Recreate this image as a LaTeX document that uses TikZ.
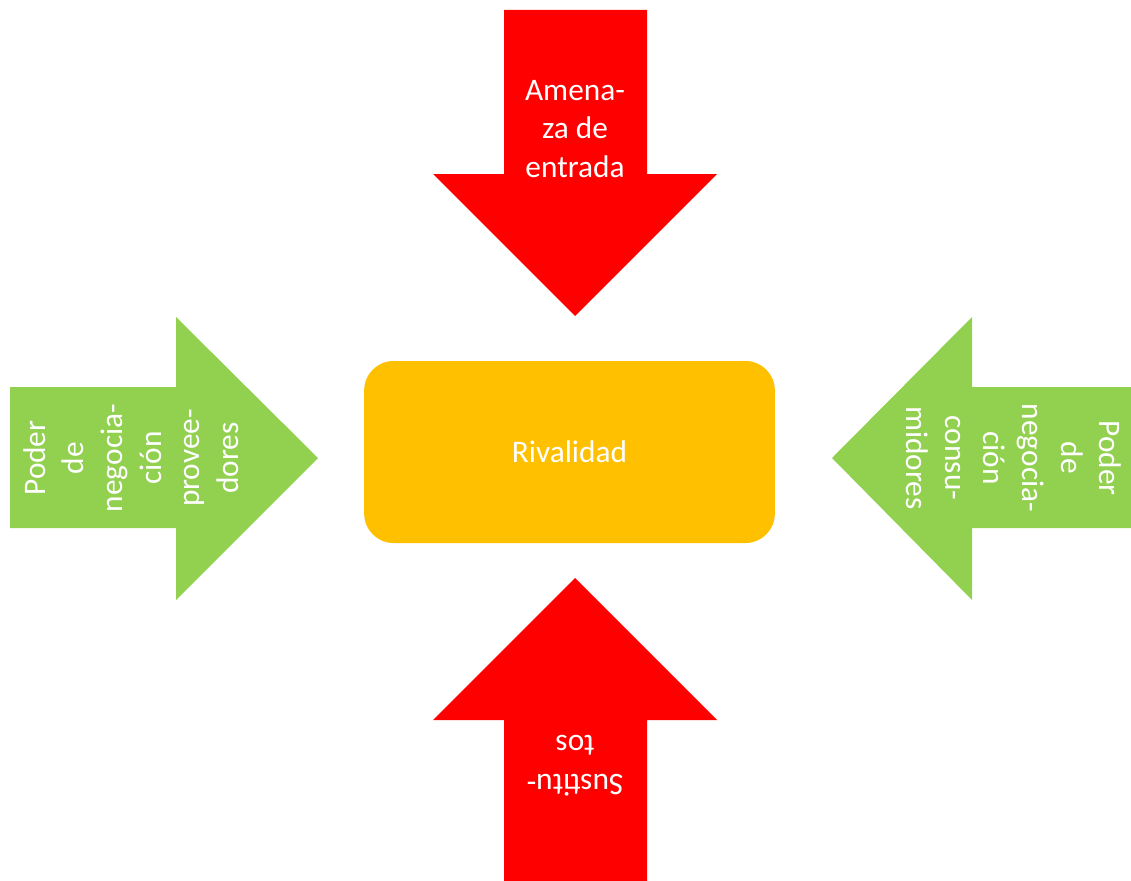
\documentclass[tikz,border=0pt]{standalone}
\usepackage{fontspec}
\setmainfont{Carlito}
\definecolor{forcered}{HTML}{FF0000}
\definecolor{forcegreen}{HTML}{92D050}
\definecolor{rivalorange}{HTML}{FFC000}
\tikzstyle{redarrow} = [fill=forcered, draw=none]
\tikzstyle{greenarrow} = [fill=forcegreen, draw=none]
\tikzstyle{forcetext} = [text=white,
align=center,
inner sep=0pt,
font=\fontsize{23.5}{29}\selectfont]
\tikzstyle{rivalbox} = [rectangle, rounded corners=22pt,
minimum width=308pt,
minimum height=136.5pt,
fill=rivalorange,
text=white,
font=\fontsize{23.5}{29}\selectfont]

\begin{document}
\begin{tikzpicture}[x=0.75pt, y=-0.75pt]
\useasboundingbox (0,0) rectangle (1131,881);

% Arrows
\fill [redarrow] (504,10) -- (647,10) -- (647,174) -- (717,174) -- (575,316) -- (433,174) -- (504,174) -- cycle;
\fill [redarrow] (504,881) -- (647,881) -- (647,720) -- (717,720) -- (575,578) -- (433,720) -- (504,720) -- cycle;
\fill [greenarrow] (10,387) -- (10,528) -- (176,528) -- (176,600) -- (318,458) -- (176,317) -- (176,387) -- cycle;
\fill [greenarrow] (1131,387) -- (1131,528) -- (972,528) -- (972,600) -- (832,458) -- (972,317) -- (972,387) -- cycle;

% Nodes
\node (rival) [rivalbox] at (569.5,452) {Rivalidad};

\node (entrada) [forcetext] at (575,129) {Amena-\\za de\\entrada};
\node (sustitutos) [forcetext, rotate=180] at (575,766) {Sustitu-\\tos};
\node (proveedores) [forcetext, rotate=90] at (131,458) {Poder\\de\\negocia-\\ción\\provee-\\dores};
\node (consumidores) [forcetext, rotate=-90] at (1014,458) {Poder\\de\\negocia-\\ción\\consu-\\midores};

\end{tikzpicture}
\end{document}
